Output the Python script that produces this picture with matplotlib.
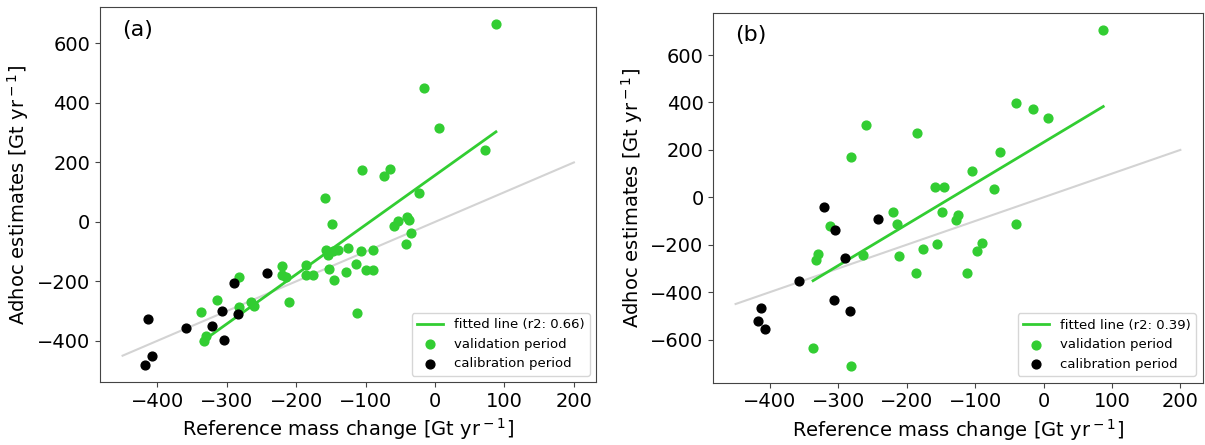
import numpy as np
import matplotlib
matplotlib.use("Agg")
import matplotlib.pyplot as plt

# painel (a): pontos
a_val_x = [87.7, -15.3, 6.4, 71.3, -105.2, -73.9, -64.4, -158, -22.9, -148.5,
           -58.6, -52.8, -40.7, -36.9, -34.9, -41.7, -157, -154.7, -146.6, -139.4,
           -125.8, -107, -89.3, -113.9, -127.8, -99, -89.8, -153, -146, -112.8,
           -221, -221, -214, -186, -186, -176.3, -211, -282.3, -313.4, -282.3,
           -265, -260.6, -336.5, -329.3, -332.7]
a_val_y = [665, 449, 315, 241, 173, 156, 178, 81, 96, -7.5,
           -15, 2, 16, 7.5, -38, -76, -95, -110, -98, -93,
           -89, -98, -93, -141, -167, -162, -162, -158, -197, -305,
           -148, -180, -185, -146, -180, -180, -268, -187, -264, -285,
           -271, -283, -303, -385, -401]
a_cal_x = [-413.6, -418.3, -407.2, -358.2, -321.2, -306.8, -303.9, -289.9, -284.1, -241.8]
a_cal_y = [-325, -482, -450, -357, -349, -300, -397, -205, -309, -173]

# painel (b)
b_val_x = [87.3, -40.4, -15.2, 6.7, -259.6, -184.7, -281.9, -64.3, -105, -158,
           -144.9, -72.6, -219.7, -147.8, -125, -127.3, -213.4, -40.9, -312.5, -330,
           -332.8, -264, -211, -176, -155, -96.8, -89.5, -186, -112.4, -336.8,
           -281.8]
b_val_y = [707, 399, 373, 333, 304, 271, 172, 191, 113, 45,
           44, 34, -61, -61, -75, -96, -113, -113, -122, -238,
           -266, -242, -246, -218, -195, -226, -191, -320, -318, -634,
           -711]
b_cal_x = [-320.8, -304.2, -241.5, -289.5, -357.3, -306.7, -283.4, -413.6, -417.5, -406.3]
b_cal_y = [-40, -137, -92, -257, -355, -433, -478, -467, -523, -556]

ref_line = [-450, 200]
r2_a = 0.66
r2_b = 0.39

verde = "#32CD32"
cinza_eixo = "#444444"


def painel(ax, vx, vy, cx, cy, r2, letra):
    vx = np.array(vx)
    vy = np.array(vy)
    # linha 1:1
    ax.plot(ref_line, ref_line, color="lightgray", lw=1.5)
    # reta ajustada no período de validação
    coef = np.polyfit(vx, vy, 1)
    xs = np.array([vx.min(), vx.max()])
    ax.plot(xs, np.polyval(coef, xs), color=verde, lw=2,
            label="fitted line (r2: %.2f)" % r2)
    ax.scatter(vx, vy, color=verde, s=40, label="validation period", zorder=3)
    ax.scatter(cx, cy, color="black", s=40, label="calibration period", zorder=3)
    ax.set_xticks([-400, -300, -200, -100, 0, 100, 200])
    ax.set_xlabel("Reference mass change [Gt yr$^-$$^1$]", fontsize=14)
    ax.set_ylabel("Adhoc estimates [Gt yr$^-$$^1$]", fontsize=14)
    ax.tick_params(labelsize=14, color=cinza_eixo)
    for s in ax.spines.values():
        s.set_color(cinza_eixo)
    ax.legend(loc="lower right", fontsize=9.5)
    ax.text(0.045, 0.94, letra, transform=ax.transAxes, fontsize=16, va="center")


fig = plt.figure(figsize=(12.05, 4.45), dpi=100)
ax1 = fig.add_axes([0.083, 0.141, 0.412, 0.843])
ax2 = fig.add_axes([0.592, 0.140, 0.406, 0.831])

painel(ax1, a_val_x, a_val_y, a_cal_x, a_cal_y, r2_a, "(a)")
painel(ax2, b_val_x, b_val_y, b_cal_x, b_cal_y, r2_b, "(b)")
ax1.set_yticks([-400, -200, 0, 200, 400, 600])
ax2.set_yticks([-600, -400, -200, 0, 200, 400, 600])

fig.savefig("out.png", dpi=100)
